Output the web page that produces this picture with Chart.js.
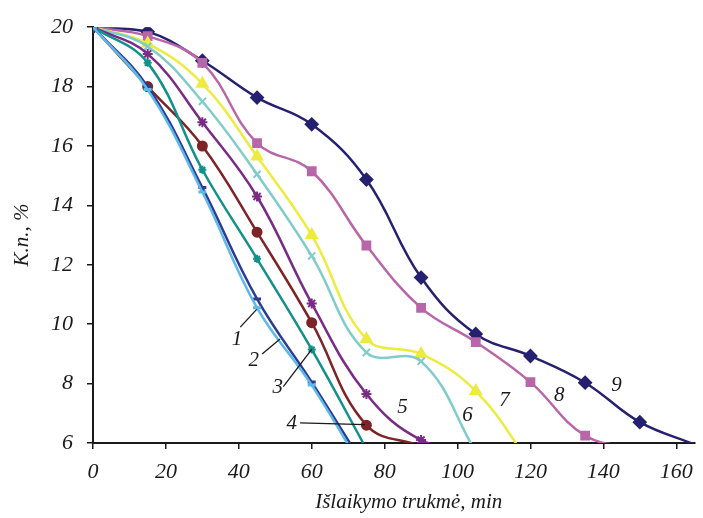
<!DOCTYPE html>
<html>
<head>
<meta charset="utf-8">
<script src="https://cdn.jsdelivr.net/npm/chart.js@4.4.1/dist/chart.umd.min.js"></script>
<style>
  html, body { margin: 0; padding: 0; background: #fff; }
  #wrap { width: 703px; height: 518px; }
</style>
</head>
<body>
<div id="wrap"><canvas id="chart"></canvas></div>
<script>
// sampling times, min
const TIMES = [0, 15, 30, 45, 60, 75, 90, 105, 120, 135, 150, 165];

// K.n., % for curves 1..9 (the last value of each goes below the axis and is clipped)
const K1 = [20, 17.9, 14.45, 10.55, 7.95, 4.9];
const K2 = [20, 18.0, 14.6, 10.85, 8.05, 5.1];
const K3 = [20, 18.8, 15.2, 12.2, 9.15, 5.8];
const K4 = [20, 18.0, 16.0, 13.1, 10.05, 6.6, 5.9];
const K5 = [20, 19.1, 16.8, 14.3, 10.7, 7.65, 6.1, 5.75];
const K6 = [20, 19.35, 17.5, 15.05, 12.3, 9.05, 8.75, 5.7];
const K7 = [20, 19.45, 18.1, 15.65, 13.0, 9.5, 9.0, 7.75, 5.3];
const K8 = [20, 19.7, 18.8, 16.1, 15.15, 12.65, 10.55, 9.4, 8.05, 6.25, 5.82];
const K9 = [20, 19.85, 18.87, 17.63, 16.73, 14.87, 11.57, 9.67, 8.93, 8.03, 6.7, 5.95];

const SERIES = [K1, K2, K3, K4, K5, K6, K7, K8, K9];
const CURVE_NAMES = ['1', '2', '3', '4', '5', '6', '7', '8', '9'];

const X_TICKS = [0, 20, 40, 60, 80, 100, 120, 140, 160];
const Y_TICKS = [6, 8, 10, 12, 14, 16, 18, 20];
const X_TITLE = 'Išlaikymo trukmė, min';
const Y_TITLE = 'K.n., %';

// styling
const COLORS = ['#5db9e8', '#2d3b93', '#12908a', '#7e2326', '#7a2b86', '#80cccb', '#eceb3e', '#b966a8', '#25206f'];
const MARKERS = ['line', 'line', 'star', 'circle', 'star', 'crossRot', 'triangle', 'rect', 'rectRot'];
const MARKER_R = [4, 4, 4, 4.5, 5, 5, 6, 5.5, 6];

// curve number labels (data coords) and leader lines
const NOTE_X = [39.5, 44.1, 50.7, 54.5, 84.9, 102.7, 112.9, 127.9, 143.6];
const NOTE_Y = [9.47, 8.77, 7.87, 6.67, 7.2, 6.93, 7.43, 7.6, 7.93];
const LEADERS = [
  [40.4, 9.9, 44.9, 10.5],
  [46.4, 9.0, 51.3, 9.5],
  [52.2, 7.9, 60.0, 9.15],
  [56.8, 6.68, 74.6, 6.62]
];

const FONT = 'Liberation Serif';
const INK = '#1a1a1a';
const Y_MIN = 6;

const curveNotes = {
  id: 'curveNotes',
  afterDatasetsDraw(chart) {
    const { ctx, chartArea, scales: { x, y } } = chart;
    ctx.save();
    ctx.strokeStyle = INK;
    ctx.lineWidth = 1.3;
    LEADERS.forEach(l => {
      ctx.beginPath();
      ctx.moveTo(x.getPixelForValue(l[0]), y.getPixelForValue(l[1]));
      ctx.lineTo(x.getPixelForValue(l[2]), y.getPixelForValue(l[3]));
      ctx.stroke();
    });
    ctx.fillStyle = INK;
    ctx.font = `italic 21px "${FONT}"`;
    ctx.textAlign = 'center';
    ctx.textBaseline = 'middle';
    CURVE_NAMES.forEach((n, i) => {
      ctx.fillText(n, x.getPixelForValue(NOTE_X[i]), y.getPixelForValue(NOTE_Y[i]));
    });
    // x axis title sits a little right of the plot centre in the original
    ctx.fillText(X_TITLE, (chartArea.left + chartArea.right) / 2 + 15, chartArea.bottom + 59);
    ctx.restore();
  }
};

const datasets = SERIES.map((vals, i) => ({
  label: CURVE_NAMES[i],
  data: vals.map((v, j) => ({ x: TIMES[j], y: v })),
  borderColor: COLORS[i],
  backgroundColor: COLORS[i],
  borderWidth: 2.5,
  tension: 0.4,
  pointStyle: MARKERS[i],
  // no marker for the run-out point below the axis
  pointRadius: c => (c.raw && c.raw.y < Y_MIN ? 0 : MARKER_R[i]),
  pointBorderColor: COLORS[i],
  pointBackgroundColor: COLORS[i],
  pointBorderWidth: MARKERS[i] === 'line' ? 3 : 2
}));

new Chart(document.getElementById('chart'), {
  type: 'line',
  data: { datasets },
  options: {
    responsive: true,
    maintainAspectRatio: false,
    animation: false,
    layout: { padding: { top: 23, right: 8, left: 0, bottom: 0 } },
    plugins: { legend: { display: false }, tooltip: { enabled: false } },
    scales: {
      x: {
        type: 'linear',
        min: 0,
        max: 165,
        afterBuildTicks: s => { s.ticks = X_TICKS.map(v => ({ value: v })); },
        afterFit: s => { s.height = 75; },
        border: { color: INK, width: 2 },
        grid: { drawOnChartArea: false, drawTicks: true, tickLength: 6, color: INK, lineWidth: 1.5 },
        ticks: { color: INK, padding: 10, maxRotation: 0, font: { family: FONT, size: 22, style: 'italic' } }
      },
      y: {
        min: Y_MIN,
        max: 20,
        afterBuildTicks: s => { s.ticks = Y_TICKS.map(v => ({ value: v })); },
        afterFit: s => { s.width = 93; },
        border: { color: INK, width: 2 },
        grid: { drawOnChartArea: false, drawTicks: true, tickLength: 6, color: INK, lineWidth: 1.5 },
        ticks: { color: INK, padding: 14, font: { family: FONT, size: 22, style: 'italic' } },
        title: {
          display: true,
          text: Y_TITLE,
          color: INK,
          padding: { top: 10, bottom: 0 },
          font: { family: FONT, size: 21, style: 'italic' }
        }
      }
    }
  },
  plugins: [curveNotes]
});
</script>
</body>
</html>
